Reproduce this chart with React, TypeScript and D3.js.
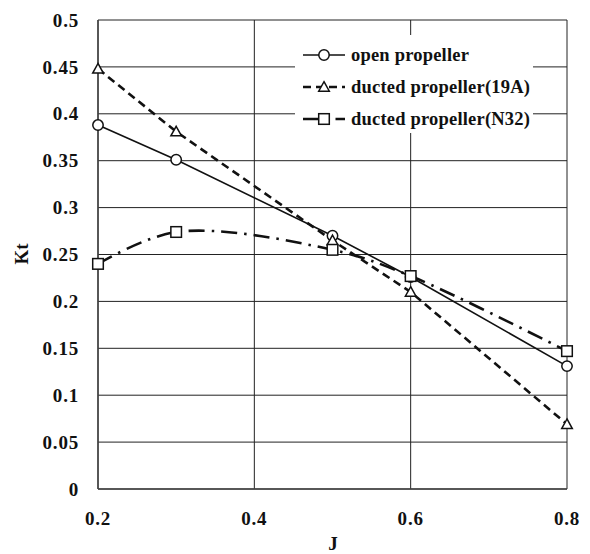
import React from "react";
import * as d3 from "d3";

const J = [0.2, 0.3, 0.5, 0.6, 0.8];
const openKt = [0.388, 0.351, 0.27, 0.226, 0.131];
const duct19AKt = [0.448, 0.381, 0.265, 0.21, 0.069];
const ductN32Kt = [0.24, 0.274, 0.255, 0.227, 0.147];
const xTicks = [0.2, 0.4, 0.6, 0.8];
const yTicks = [0, 0.05, 0.1, 0.15, 0.2, 0.25, 0.3, 0.35, 0.4, 0.45, 0.5];
const seriesNames = ["open propeller", "ducted propeller(19A)", "ducted propeller(N32)"];

const W = 590, H = 554;
const FONT = "'Liberation Serif', 'Times New Roman', serif";

export default function App() {
  const x = d3.scaleLinear().domain([0.2, 0.8]).range([98, 567]);
  const y = d3.scaleLinear().domain([0, 0.5]).range([489, 20]);
  const fmt = (v: number) => String(+v.toFixed(2));

  const lineStraight = d3.line<number>().x((_, i) => x(J[i])).y((d) => y(d));
  const lineSmooth = d3.line<number>().x((_, i) => x(J[i])).y((d) => y(d)).curve(d3.curveCatmullRom.alpha(0.5));

  const series = [
    { name: seriesNames[0], data: openKt, marker: "circle", dash: "none", width: 1.6, path: lineStraight(openKt) },
    { name: seriesNames[1], data: duct19AKt, marker: "triangle", dash: "8,5", width: 2.6, path: lineStraight(duct19AKt) },
    { name: seriesNames[2], data: ductN32Kt, marker: "square", dash: "16,7,2.5,7", width: 2.6, path: lineSmooth(ductN32Kt) },
  ];

  const marker = (type: string, cx: number, cy: number, key: any) => {
    if (type === "circle") return <circle key={key} cx={cx} cy={cy} r={5.2} fill="white" stroke="#111" strokeWidth={1.5} />;
    if (type === "triangle") {
      const s = 5.3;
      return <path key={key} d={`M${cx},${cy - s}L${cx + s},${cy + s * 0.8}L${cx - s},${cy + s * 0.8}Z`} fill="white" stroke="#111" strokeWidth={1.5} />;
    }
    return <rect key={key} x={cx - 5.3} y={cy - 5.3} width={10.6} height={10.6} fill="white" stroke="#111" strokeWidth={1.5} />;
  };

  const legendY = [55, 87, 119];

  return (
    <svg width={W} height={H} style={{ position: "absolute", left: 0, top: 0, background: "white" }} fontFamily={FONT}>
      <rect width={W} height={H} fill="white" />
      {yTicks.map((t) => (
        <line key={"gy" + t} x1={x(0.2)} x2={x(0.8)} y1={y(t)} y2={y(t)} stroke="#222" strokeWidth={1} />
      ))}
      {xTicks.map((t) => (
        <line key={"gx" + t} x1={x(t)} x2={x(t)} y1={y(0)} y2={y(0.5)} stroke="#222" strokeWidth={1} />
      ))}
      <line x1={x(0.2)} x2={x(0.2)} y1={y(0)} y2={y(0.5)} stroke="#444" strokeWidth={1.5} />
      <line x1={x(0.2)} x2={x(0.8)} y1={y(0)} y2={y(0)} stroke="#444" strokeWidth={1.5} />
      {yTicks.map((t) => (
        <text key={"ty" + t} x={79} y={y(t)} dy="0.35em" textAnchor="end" fontSize={19} fontWeight="bold" fill="#111" letterSpacing={0.8}>
          {fmt(t)}
        </text>
      ))}
      {xTicks.map((t) => (
        <text key={"tx" + t} x={x(t)} y={525} textAnchor="middle" fontSize={19} fontWeight="bold" fill="#111" letterSpacing={0.8}>
          {fmt(t)}
        </text>
      ))}
      <text x={333} y={550} textAnchor="middle" fontSize={19} fontWeight="bold" fill="#111">J</text>
      <text transform="translate(28,254) rotate(-90)" textAnchor="middle" fontSize={19} fontWeight="bold" fill="#111">Kt</text>
      <rect x={295} y={35} width={238} height={98} fill="white" />
      {series.map((s) => (
        <path key={s.name} d={s.path || ""} fill="none" stroke="#111" strokeWidth={s.width} strokeDasharray={s.dash} />
      ))}
      {series.map((s) => s.data.map((v, i) => marker(s.marker, x(J[i]), y(v), s.name + i)))}
      {series.map((s, i) => (
        <g key={"lg" + i}>
          <line x1={303} x2={345} y1={legendY[i]} y2={legendY[i]} stroke="#111" strokeWidth={s.width} strokeDasharray={s.dash} />
          {marker(s.marker, 324, legendY[i], "lm" + i)}
          <text x={351} y={legendY[i]} dy="0.32em" fontSize={18.5} fontWeight="bold" fill="#111" letterSpacing={0.2}>
            {s.name}
          </text>
        </g>
      ))}
    </svg>
  );
}
